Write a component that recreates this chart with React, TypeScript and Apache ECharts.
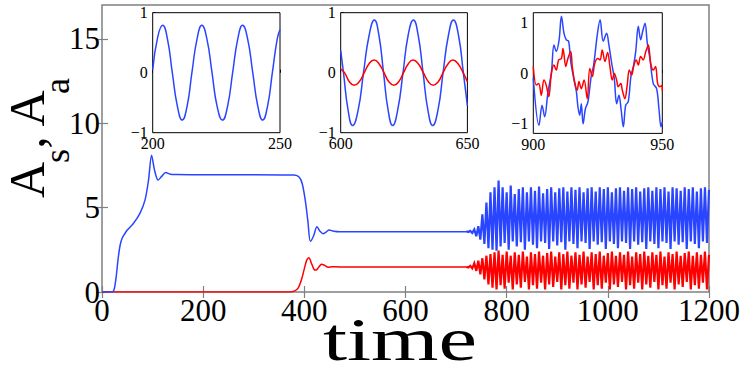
import { useEffect, useRef } from "react";
import * as echarts from "echarts";

const BLUE = "#2a45ff";
const RED = "#ff0000";
const SERIF = "Liberation Serif, Times New Roman, Times, serif";

// ---- main plot: smooth (pre-oscillation) parts ----
const blueT = [0, 20, 24, 28, 32, 36, 40, 45, 50, 62, 75, 85, 92, 98, 104, 111, 118, 126, 135, 148, 200, 300, 380, 390, 396, 402, 407, 412, 418, 425, 431, 437, 443, 449, 458, 470, 550, 650, 720];
const blueV = [0, 0, 0.15, 0.9, 2.0, 2.8, 3.2, 3.45, 3.67, 4.06, 4.66, 5.44, 6.63, 8.1, 7.2, 6.63, 6.85, 7.08, 6.98, 6.96, 6.95, 6.95, 6.93, 6.8, 6.4, 5.4, 4.2, 3.0, 3.3, 3.86, 3.6, 3.45, 3.55, 3.67, 3.6, 3.57, 3.57, 3.57, 3.57];
const redT = [0, 370, 380, 388, 395, 401, 405, 409, 414, 419, 423, 428, 434, 440, 447, 455, 470, 600, 720];
const redV = [0, 0, 0.05, 0.25, 0.8, 1.5, 1.9, 2.03, 1.7, 1.35, 1.3, 1.45, 1.64, 1.58, 1.47, 1.5, 1.48, 1.48, 1.48];

// ---- main plot: oscillating band, envelopes sampled from t = 720 every 8 ----
const OSC_START = 720;
const OSC_STEP = 8;
const blueUpper = [3.6, 3.62, 3.7, 3.9, 4.6, 5.3, 5.9, 6.2, 6.6, 6.2, 5.9, 6.3, 5.8, 6.1, 6.2, 5.9, 6.2, 6.0, 6.25, 5.85, 6.1, 6.2, 5.9, 6.15, 6.2, 5.95, 6.2, 6.05, 6.2, 5.9, 6.15, 6.2, 5.95, 6.2, 6.1, 6.2, 5.9, 6.15, 6.2, 6.0, 6.2, 6.1, 6.2, 5.95, 6.15, 6.2, 6.0, 6.2, 6.1, 6.2, 5.95, 6.2, 6.15, 6.0, 6.2, 6.1, 6.2, 5.95, 6.15, 6.2, 6.05];
const blueLower = [3.55, 3.5, 3.3, 3.1, 2.85, 2.6, 2.5, 2.45, 2.7, 2.9, 2.5, 3.0, 2.7, 2.95, 2.5, 3.0, 2.8, 2.6, 3.0, 2.9, 2.55, 3.0, 2.75, 2.95, 2.5, 3.0, 2.85, 2.6, 3.0, 2.9, 2.55, 3.0, 2.8, 2.95, 2.55, 3.0, 2.85, 2.6, 3.0, 2.9, 2.55, 3.0, 2.8, 2.95, 2.55, 3.0, 2.85, 2.6, 3.0, 2.9, 2.55, 3.0, 2.8, 2.95, 2.55, 3.0, 2.85, 2.6, 3.0, 2.9];
const redUpper = [1.5, 1.55, 1.7, 1.85, 2.0, 2.15, 2.25, 2.35, 2.45, 2.2, 2.4, 2.15, 2.35, 2.2, 2.4, 2.1, 2.35, 2.25, 2.4, 2.15, 2.3, 2.4, 2.1, 2.35, 2.25, 2.4, 2.15, 2.35, 2.2, 2.4, 2.1, 2.35, 2.25, 2.4, 2.15, 2.3, 2.4, 2.15, 2.35, 2.2, 2.4, 2.1, 2.35, 2.25, 2.4, 2.15, 2.35, 2.2, 2.4, 2.1, 2.35, 2.25, 2.4, 2.15, 2.3, 2.4, 2.15, 2.35, 2.2, 2.4, 2.2];
const redLower = [1.45, 1.4, 1.25, 1.05, 0.75, 0.45, 0.25, 0.15, 0.4, 0.2, 0.55, 0.15, 0.45, 0.25, 0.6, 0.15, 0.4, 0.2, 0.55, 0.15, 0.45, 0.3, 0.6, 0.15, 0.4, 0.2, 0.55, 0.15, 0.45, 0.25, 0.6, 0.15, 0.4, 0.2, 0.55, 0.15, 0.45, 0.3, 0.6, 0.15, 0.4, 0.2, 0.55, 0.15, 0.45, 0.25, 0.6, 0.15, 0.4, 0.2, 0.55, 0.15, 0.45, 0.3, 0.6, 0.15, 0.4, 0.2, 0.55, 0.15];

// ---- main axes ----
const mainYTicks = [0, 5, 10, 15];

// ---- inset 1 (200-250) ----
const in1T = [200, 202, 203.9, 205.8, 207.7, 209.7, 211.6, 213.5, 215.4, 217.4, 219.3, 221.3, 223.3, 225.3, 227.4, 229.4, 231.4, 233.4, 235.3, 237.3, 239.3, 241.3, 243.2, 245.1, 247, 248.9, 250];
const in1Blue = [0.05, 0.6, 0.79, 0.56, 0, -0.56, -0.79, -0.56, 0, 0.56, 0.79, 0.56, 0, -0.56, -0.79, -0.56, 0, 0.56, 0.79, 0.56, 0, -0.56, -0.79, -0.56, 0, 0.56, 0.72];

// ---- inset 2 (600-650) ----
const in2BlueT = [600, 601.1, 602.9, 604.7, 606.9, 609, 611.2, 613.3, 615.1, 616.9, 618.7, 620.5, 622.5, 624.6, 626.6, 628.7, 630.6, 632.5, 634.4, 636.3, 638.4, 640.4, 642.5, 644.5, 646.5, 648.4, 650];
const in2Blue = [0.37, 0, -0.62, -0.88, -0.62, 0, 0.62, 0.88, 0.62, 0, -0.62, -0.88, -0.62, 0, 0.62, 0.88, 0.62, 0, -0.62, -0.88, -0.62, 0, 0.62, 0.88, 0.62, 0, -0.55];
const in2RedT = [600, 601.5, 603.4, 605.3, 607.3, 609.3, 611.2, 613.2, 615.1, 617.1, 619, 621, 622.9, 624.8, 626.7, 628.6, 630.6, 632.6, 634.6, 636.5, 638.5, 640.4, 642.4, 644.3, 646.3, 648.3, 650];
const in2Red = [0.06, 0, -0.15, -0.21, -0.15, 0, 0.15, 0.21, 0.15, 0, -0.15, -0.21, -0.15, 0, 0.15, 0.21, 0.15, 0, -0.15, -0.21, -0.15, 0, 0.15, 0.21, 0.15, 0, -0.15];

// ---- inset 3 (900-950) ----
const in3BlueT = [900, 902.2, 903.4, 904.4, 905.7, 907, 908, 908.9, 910, 910.9, 911.9, 912.8, 913.7, 914.5, 915.8, 916.7, 917.3, 918, 918.6, 919.3, 920.2, 921.2, 922.5, 923.4, 924.8, 925.9, 927.1, 928.4, 929.3, 930.4, 931.4, 932.3, 933.2, 934, 934.9, 935.8, 936.8, 937.9, 938.8, 939.7, 940.7, 941.6, 942.4, 943.3, 944.2, 945.2, 946.5, 947.8, 948.7, 949.5, 950];
const in3Blue = [-0.1, -1.04, -0.64, -0.87, -0.37, 0, 0.56, 0.43, 0.66, 1.13, 0.79, 0.66, 0.63, 0.23, -0.14, -0.37, -0.67, -0.84, -0.61, -1.01, -0.71, -0.57, -0.04, 0.16, 0.76, 1.06, 0.63, 0.79, 0.56, 0.19, -0.11, -0.61, -0.44, -0.71, -1.07, -0.64, -0.57, -0.04, 0.13, 0.43, 0.93, 0.66, 0.83, 0.99, 0.59, 0.29, -0.21, -0.31, -0.71, -1.07, -0.97];
const in3RedT = [900, 901.2, 902.1, 903.1, 904.1, 905, 906, 907, 908, 908.9, 909.8, 910.9, 911.5, 912.6, 913.4, 914.5, 915.1, 916, 917, 917.7, 918.6, 919.7, 920.9, 921.9, 922.9, 923.8, 925, 925.9, 926.7, 927.8, 928.8, 929.7, 930.6, 931.4, 932.3, 932.9, 933.9, 934.5, 935.5, 936.4, 937.2, 938.1, 939, 939.9, 940.7, 941.6, 942.6, 943.6, 944.6, 945.5, 946.5, 947.4, 948.2, 949.1, 949.8, 950];
const in3Red = [0.13, -0.24, -0.21, -0.44, -0.14, -0.24, -0.47, -0.01, 0.16, 0.06, 0.26, 0.29, 0.49, 0.13, 0.29, 0.43, 0.13, -0.17, -0.34, -0.17, -0.31, -0.14, -0.51, 0.09, -0.07, 0.19, 0.29, 0.26, 0.46, 0.23, 0.41, 0.13, -0.14, -0.01, -0.14, -0.27, -0.21, -0.34, -0.51, -0.24, 0.06, -0.04, 0.16, 0.26, 0.16, 0.33, 0.26, 0.43, 0.56, 0.19, 0.06, 0.13, -0.21, -0.27, -0.25, -0.35];
const insetYTicks = [-1, 0, 1];

const zip = (t: number[], v: number[]) => t.map((x, i) => [x, v[i]]);
const oscT = (i: number) => OSC_START + i * OSC_STEP;
const zigzag = (up: number[], lo: number[]) => {
  const out: number[][] = [];
  up.forEach((u, i) => {
    out.push([oscT(i), u]);
    if (i < lo.length) out.push([oscT(i) + OSC_STEP / 2, lo[i]]);
  });
  return out;
};
const minus = (v: number) => String(v).replace("-", "\u2212");

export default function App() {
  const ref = useRef<HTMLDivElement>(null);
  useEffect(() => {
    document.body.style.margin = "0";
    const chart = echarts.init(ref.current!, undefined, { renderer: "svg" });
    const gray = "#808080";
    const insetGrids = [
      { left: 152.7, top: 12.7, width: 127.3, height: 120 },
      { left: 340.7, top: 12.7, width: 126.7, height: 120 },
      { left: 533.3, top: 12.7, width: 129, height: 120.7 },
    ];
    const insetX = [
      [200, 250],
      [600, 650],
      [900, 950],
    ];
    const insetY = [
      [-1, 1],
      [-1, 1],
      [-1.2, 1.2],
    ];
    const grids: any[] = [
      { left: 102, top: 5, width: 607, height: 287, show: true, borderColor: gray, borderWidth: 1.5, backgroundColor: "transparent" },
      ...insetGrids.map((g) => ({ ...g, show: true, borderColor: "#000", borderWidth: 1, backgroundColor: "#fff", z: 5 })),
    ];
    const xAxes: any[] = [
      {
        type: "value", gridIndex: 0, min: 0, max: 1200, interval: 200, position: "bottom",
        axisLine: { show: false }, splitLine: { show: false },
        axisTick: { inside: true, length: 6, lineStyle: { color: gray, width: 1.2 } },
        axisLabel: { fontFamily: SERIF, fontSize: 31, color: "#000", margin: 3, formatter: (v: number) => String(v) },
      },
      {
        type: "value", gridIndex: 0, min: 0, max: 1200, interval: 200, position: "top",
        axisLine: { show: false }, splitLine: { show: false },
        axisTick: { inside: true, length: 6, lineStyle: { color: gray, width: 1.2 } },
        axisLabel: { show: false },
      },
      ...insetX.map((r, i) => ({
        type: "value", gridIndex: i + 1, min: r[0], max: r[1], interval: 50,
        axisLine: { show: false }, splitLine: { show: false },
        axisTick: { inside: true, length: 3, lineStyle: { color: "#000" } },
        axisLabel: { fontFamily: SERIF, fontSize: 16, color: "#000", margin: 3, formatter: (v: number) => String(v) },
      })),
    ];
    const yAxes: any[] = [
      {
        type: "value", gridIndex: 0, min: 0, max: 17, position: "left",
        axisLine: { show: false }, splitLine: { show: false },
        axisTick: { inside: true, length: 6, customValues: mainYTicks, lineStyle: { color: gray, width: 1.2 } },
        axisLabel: { fontFamily: SERIF, fontSize: 31, color: "#000", margin: 2, customValues: mainYTicks },
      },
      {
        type: "value", gridIndex: 0, min: 0, max: 17, position: "right",
        axisLine: { show: false }, splitLine: { show: false },
        axisTick: { inside: true, length: 6, customValues: mainYTicks, lineStyle: { color: gray, width: 1.2 } },
        axisLabel: { show: false, customValues: mainYTicks },
      },
      ...insetY.map((r, i) => ({
        type: "value", gridIndex: i + 1, min: r[0], max: r[1],
        axisLine: { show: false }, splitLine: { show: false },
        axisTick: { inside: true, length: 3, customValues: insetYTicks, lineStyle: { color: "#000" } },
        axisLabel: { fontFamily: SERIF, fontSize: 16, color: "#000", margin: 5, customValues: insetYTicks, formatter: (v: number) => minus(v) },
      })),
    ];
    const line = (data: number[][], color: string, xi: number, yi: number, width = 1.5, smooth: any = 0.3, z = 2) => ({
      type: "line", data, xAxisIndex: xi, yAxisIndex: yi, showSymbol: false, symbol: "none", smooth,
      lineStyle: { color, width, join: "miter" }, z, clip: true,
    });
    // filled band between the two envelopes (stacked: base = lower, height = upper - lower)
    const band = (up: number[], lo: number[], color: string, name: string) => {
      const n = Math.min(up.length, lo.length);
      const base = lo.slice(0, n).map((v, i) => [oscT(i), v]);
      const height = lo.slice(0, n).map((v, i) => [oscT(i), up[i] - v]);
      return [
        { type: "line", data: base, stack: name, showSymbol: false, symbol: "none", lineStyle: { width: 0, opacity: 0 }, z: 1, silent: true },
        { type: "line", data: height, stack: name, showSymbol: false, symbol: "none", lineStyle: { width: 0, opacity: 0 }, areaStyle: { color, opacity: 1 }, z: 1, silent: true },
      ];
    };
    const rot = (text: string, x: number, y: number, size: number) => ({
      type: "text", x, y, rotation: Math.PI / 2,
      style: { text, fontSize: size, fontFamily: SERIF, fill: "#000", align: "left", verticalAlign: "middle" },
    });
    chart.setOption({
      animation: false,
      backgroundColor: "#fff",
      grid: grids,
      xAxis: xAxes,
      yAxis: yAxes,
      series: [
        ...band(blueUpper, blueLower, BLUE, "b"),
        ...band(redUpper, redLower, RED, "r"),
        line(zip(redT, redV), RED, 0, 0, 1.5, 0.3),
        line(zip(blueT, blueV), BLUE, 0, 0, 1.5, 0.3),
        line(zigzag(blueUpper, blueLower), BLUE, 0, 0, 2.2, false),
        line(zigzag(redUpper, redLower), RED, 0, 0, 2.2, false),
        line(zip(in1T, in1Blue), BLUE, 2, 2, 1.5, 0.5, 6),
        line(zip(in2BlueT, in2Blue), BLUE, 3, 3, 1.5, 0.5, 6),
        line(zip(in2RedT, in2Red), RED, 3, 3, 1.5, 0.5, 7),
        line(zip(in3BlueT, in3Blue), BLUE, 4, 4, 1.5, 0.35, 6),
        line(zip(in3RedT, in3Red), RED, 4, 4, 1.5, 0.35, 7),
      ],
      graphic: [
        rot("A", 27, 198, 50),
        rot("s", 57, 163, 36),
        rot(", A", 27, 148.7, 50),
        rot("a", 57, 94, 36),
        {
          type: "text", x: 400, y: 339, scaleX: 1.4,
          style: { text: "time", fontSize: 62, fontFamily: SERIF, fill: "#000", align: "center", verticalAlign: "middle" },
        },
      ],
    });
    return () => chart.dispose();
  }, []);
  return <div ref={ref} style={{ width: 747, height: 374 }} />;
}
